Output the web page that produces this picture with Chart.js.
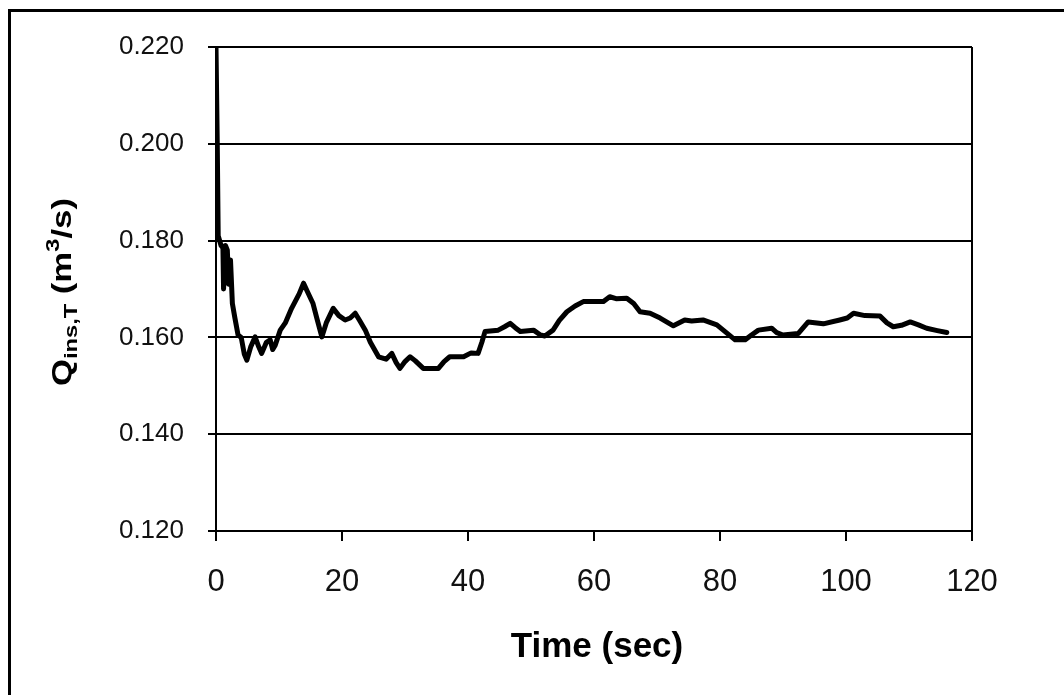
<!DOCTYPE html>
<html lang="en">
<head>
  <meta charset="UTF-8">
  <title>Q ins,T vs Time</title>
  <script src="https://cdn.jsdelivr.net/npm/chart.js"></script>
  <style>
    body { margin: 0; background: #fff; }
    #wrap { position: relative; width: 1064px; height: 695px; overflow: hidden; }
    #frame { position: absolute; left: 8px; top: 9px; width: 1100px; height: 760px; border: 3px solid #000; pointer-events: none; }
    canvas { position: absolute; left: 0; top: 0; }
  </style>
</head>
<body>
  <div id="wrap">
    <canvas id="grafico" width="1064" height="695"></canvas>
    <div id="frame"></div>
  </div>

  <script>
    // time (sec) and flow (m3/s)
    const time = [0, 0.2, 0.35, 0.8, 1.1, 1.2, 1.5, 1.8, 2.0, 2.3, 2.6, 3.0, 3.5, 4.0, 4.5, 4.9, 5.5, 6.2, 6.8, 7.25,
      8.0, 8.6, 9.0, 9.4, 10.2, 11.0, 12.0, 13.2, 13.9, 14.5, 15.4, 16.0, 16.8, 17.5, 18.6, 19.5, 20.5, 21.3, 22.1, 22.8,
      23.7, 24.5, 25.8, 27.0, 27.9, 28.6, 29.2, 30.0, 30.8, 31.6, 32.9, 35.3, 36.2, 37.1, 39.3, 40.5, 41.6, 42.2, 42.7, 44.8,
      45.8, 46.7, 47.5, 48.3, 50.4, 51.5, 52.2, 53.5, 54.5, 55.7, 57.0, 58.3, 61.5, 62.5, 63.5, 65.2, 66.3, 67.3, 68.9, 70.5,
      72.6, 74.4, 75.5, 77.3, 79.5, 81.0, 82.4, 84.0, 85.0, 86.1, 88.2, 89.0, 90.0, 92.4, 94.0, 96.4, 99.0, 100.2, 101.2, 103.0,
      105.4, 106.5, 107.5, 108.8, 110.2, 111.5, 112.8, 114.5, 116.0];
    const flow = [0.220, 0.200, 0.181, 0.179, 0.1785, 0.170, 0.179, 0.178, 0.171, 0.176, 0.167, 0.164, 0.1605, 0.160, 0.1565, 0.1553, 0.158, 0.1601, 0.158, 0.1567,
      0.159, 0.1595, 0.1575, 0.1584, 0.1615, 0.163, 0.166, 0.169, 0.1712, 0.1695, 0.167, 0.164, 0.1601, 0.163, 0.166, 0.1645, 0.1636, 0.164, 0.165, 0.1635,
      0.1615, 0.159, 0.156, 0.1555, 0.1567, 0.1548, 0.1536, 0.155, 0.156, 0.1552, 0.1536, 0.1536, 0.155, 0.156, 0.156, 0.1568, 0.1567, 0.159, 0.1612, 0.1615,
      0.1622, 0.1629, 0.162, 0.1612, 0.1615, 0.1605, 0.1603, 0.1615, 0.1635, 0.1653, 0.1665, 0.1674, 0.1674, 0.1684, 0.168, 0.1681, 0.167, 0.1653, 0.165, 0.164,
      0.1624, 0.1636, 0.1634, 0.1636, 0.1626, 0.161, 0.1595, 0.1595, 0.1605, 0.1615, 0.1619, 0.161, 0.1605, 0.1608, 0.1632, 0.1628, 0.1636, 0.164, 0.165, 0.1645,
      0.1644, 0.163, 0.1622, 0.1625, 0.1632, 0.1626, 0.1619, 0.1614, 0.161];

    const xTicks = [0, 20, 40, 60, 80, 100, 120];
    const yTicks = ['0.120', '0.140', '0.160', '0.180', '0.200', '0.220'];

    const fuente = '"Liberation Sans", Arial, sans-serif';

    // axis titles, drawn by hand for the sub/superscripts
    const titulos = {
      id: 'titulos',
      afterDraw(chart) {
        const ctx = chart.ctx;
        ctx.save();
        ctx.fillStyle = '#000';
        ctx.textBaseline = 'alphabetic';
        ctx.textAlign = 'center';
        ctx.font = 'bold 35px ' + fuente;
        ctx.fillText('Time (sec)', 597, 657);

        // y title, rotated
        const partes = [
          { t: 'Q', f: 28, dy: 0 },
          { t: 'ins,T', f: 19, dy: 6 },
          { t: ' (m', f: 28, dy: 0 },
          { t: '3', f: 19, dy: -12 },
          { t: '/s)', f: 28, dy: 0 }
        ];
        ctx.textAlign = 'left';
        let total = 0;
        partes.forEach(p => { ctx.font = 'bold ' + p.f + 'px ' + fuente; p.w = ctx.measureText(p.t).width; total += p.w; });
        const largo = 188;
        ctx.translate(71, 386);
        ctx.rotate(-Math.PI / 2);
        ctx.scale(largo / total, 1);
        let x = 0;
        partes.forEach(p => {
          ctx.font = 'bold ' + p.f + 'px ' + fuente;
          ctx.fillText(p.t, x, p.dy);
          x += p.w;
        });
        ctx.restore();
      }
    };

    const ctx = document.getElementById('grafico').getContext('2d');
    const grafico = new Chart(ctx, {
      type: 'line',
      data: {
        datasets: [{
          data: time.map((t, i) => ({ x: t, y: flow[i] })),
          borderColor: '#000',
          borderWidth: 5,
          pointRadius: 0,
          tension: 0,
          borderJoinStyle: 'round',
          borderCapStyle: 'round',
          fill: false
        }]
      },
      options: {
        responsive: false,
        animation: false,
        layout: { padding: { left: 0, top: 47, right: 92, bottom: 0 } },
        plugins: { legend: { display: false }, tooltip: { enabled: false } },
        scales: {
          x: {
            type: 'linear',
            min: 0,
            max: 120,
            afterBuildTicks: s => { s.ticks = xTicks.map(v => ({ value: v })); },
            afterFit: s => { s.height = 164; },
            grid: {
              color: c => (c.tick && c.tick.value === 120) ? '#000' : 'rgba(0,0,0,0)',
              lineWidth: 2,
              tickColor: '#000',
              tickLength: 10
            },
            border: { color: '#000', width: 2 },
            ticks: {
              color: '#111',
              font: { family: fuente, size: 31 },
              padding: 23,
              maxRotation: 0
            }
          },
          y: {
            min: 0.12,
            max: 0.22,
            afterBuildTicks: s => { s.ticks = yTicks.map(v => ({ value: parseFloat(v) })); },
            afterFit: s => { s.width = 216; },
            grid: { color: '#000', lineWidth: 2, tickLength: 8 },
            border: { color: '#000', width: 2 },
            ticks: {
              color: '#111',
              font: { family: fuente, size: 26 },
              padding: 24,
              callback: (v, i) => yTicks[i]
            }
          }
        }
      },
      plugins: [titulos]
    });
  </script>
</body>
</html>
